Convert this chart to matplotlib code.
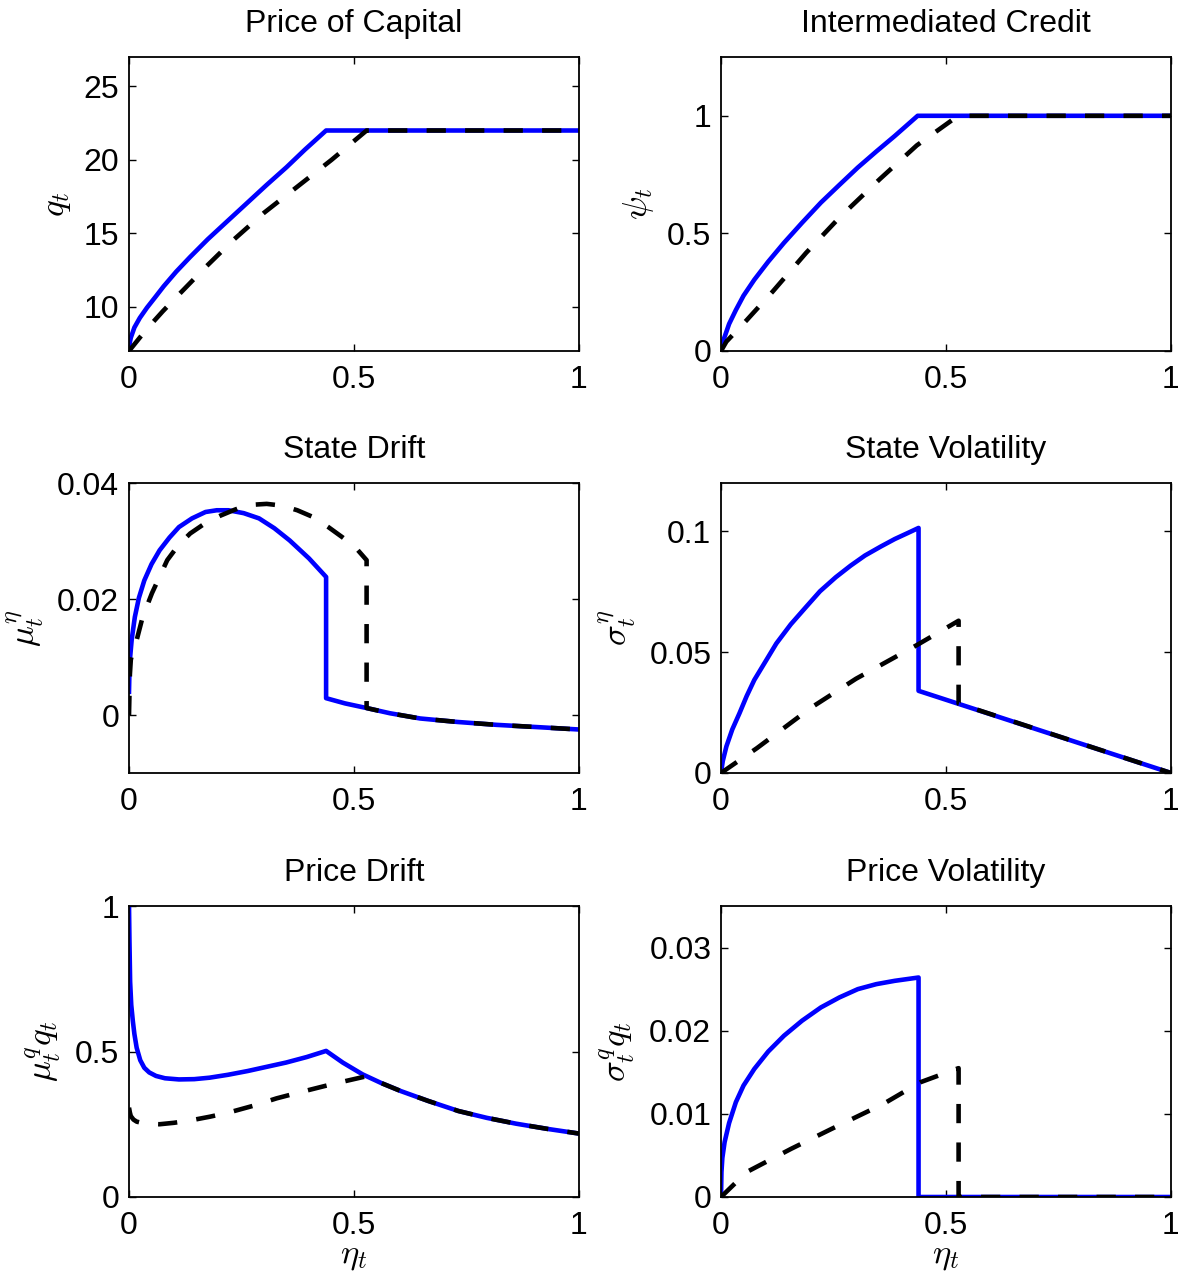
import numpy as np
import matplotlib
matplotlib.use("Agg")
import matplotlib.pyplot as plt
from matplotlib.ticker import FormatStrFormatter

plt.rcParams['font.family'] = ['Liberation Sans', 'DejaVu Sans']
plt.rcParams['mathtext.fontset'] = 'cm'

# price of capital
q_eta_b = [0, 0.004, 0.012, 0.024, 0.04, 0.058, 0.077, 0.105, 0.136, 0.175, 0.221, 0.26, 0.306,
           0.35, 0.391, 0.438, 1.0]
q_b = [7.3, 7.9, 8.6, 9.25, 9.95, 10.65, 11.4, 12.4, 13.4, 14.6, 15.9, 17.0, 18.3,
       19.5, 20.7, 22.0, 22.0]
q_eta_k = [0, 0.025, 0.05, 0.075, 0.1, 0.135, 0.17, 0.23, 0.3, 0.375, 0.45, 0.528, 1.0]
q_k = [7.0, 7.95, 8.85, 9.7, 10.5, 11.6, 12.7, 14.5, 16.4, 18.2, 20.0, 22.0, 22.0]

# intermediated credit
psi_eta_b = [0, 0.003, 0.008, 0.018, 0.033, 0.05, 0.074, 0.105, 0.14, 0.18, 0.222, 0.263,
             0.304, 0.345, 0.386, 0.437, 1.0]
psi_b = [0, 0.035, 0.06, 0.115, 0.174, 0.235, 0.303, 0.38, 0.46, 0.545, 0.631, 0.706,
         0.78, 0.848, 0.914, 1.0, 1.0]
psi_eta_k = [0, 0.012, 0.057, 0.115, 0.189, 0.263, 0.353, 0.435, 0.513, 0.53, 1.0]
psi_k = [0, 0.04, 0.131, 0.253, 0.417, 0.567, 0.731, 0.874, 0.981, 1.0, 1.0]

# state drift
mu_eta_b = [0, 0.001, 0.002, 0.006, 0.013, 0.022, 0.034, 0.05, 0.068, 0.09, 0.111, 0.14, 0.17,
            0.195, 0.221, 0.255, 0.289, 0.323, 0.357, 0.4, 0.438,
            0.438, 0.48, 0.528, 0.58, 0.647, 0.73, 0.817, 0.91, 1.0]
mu_b = [0.004, 0.0075, 0.0095, 0.013, 0.0169, 0.0202, 0.0232, 0.026, 0.0284, 0.0306, 0.0324, 0.0339, 0.035,
        0.0353, 0.0353, 0.0348, 0.0339, 0.0322, 0.0301, 0.027, 0.0238,
        0.0029, 0.002, 0.0012, 0.0003, -0.0006, -0.0012, -0.0017, -0.0021, -0.0025]
mu_eta_k = [0, 0.002, 0.004, 0.01, 0.017, 0.03, 0.051, 0.085, 0.11, 0.136, 0.17, 0.204, 0.235,
            0.264, 0.306, 0.34, 0.374, 0.41, 0.443, 0.475, 0.502, 0.528,
            0.528, 0.58, 0.647, 0.73, 0.817, 0.91, 1.0]
mu_k = [0, 0.007, 0.0095, 0.0115, 0.0129, 0.0168, 0.021, 0.0267, 0.0293, 0.0313, 0.0331, 0.0344, 0.0354,
        0.0362, 0.0364, 0.0361, 0.0353, 0.0341, 0.0324, 0.0306, 0.029, 0.0267,
        0.0012, 0.0003, -0.0006, -0.0012, -0.0017, -0.0021, -0.0025]

# state volatility
sig_eta_b = [0, 0.004, 0.012, 0.025, 0.041, 0.057, 0.074, 0.1, 0.123, 0.155, 0.189, 0.22,
             0.255, 0.288, 0.32, 0.355, 0.386, 0.415, 0.439, 0.439, 1.0]
sig_b = [0, 0.005, 0.011, 0.018, 0.0247, 0.0318, 0.0385, 0.0465, 0.0536, 0.0615, 0.0687, 0.0752,
         0.081, 0.0858, 0.09, 0.0937, 0.0968, 0.0993, 0.1014, 0.034, 0]
sig_eta_k = [0, 0.08, 0.2, 0.3, 0.435, 0.528, 0.528, 1.0]
sig_k = [0, 0.0103, 0.027, 0.039, 0.0529, 0.063, 0.0287, 0]

# price drift
muq_eta_b = [0, 0.001, 0.0025, 0.005, 0.0085, 0.012, 0.017, 0.025, 0.034, 0.045, 0.06, 0.08,
             0.111, 0.145, 0.179, 0.22, 0.264, 0.305, 0.349, 0.395, 0.438,
             0.475, 0.519, 0.56, 0.604, 0.665, 0.732, 0.795, 0.86, 0.93, 1.0]
muq_b = [1.0, 0.88, 0.74, 0.66, 0.605, 0.56, 0.513, 0.47, 0.444, 0.428, 0.416, 0.408,
         0.404, 0.405, 0.41, 0.42, 0.433, 0.447, 0.462, 0.481, 0.502,
         0.462, 0.4215, 0.392, 0.364, 0.33, 0.2955, 0.272, 0.252, 0.234, 0.218]
muq_eta_k = [0, 0.002, 0.004, 0.01, 0.017, 0.035, 0.068, 0.1, 0.136, 0.18, 0.221, 0.275,
             0.328, 0.38, 0.434, 0.48, 0.528, 0.56, 0.604, 0.665, 0.732, 0.795, 0.86, 0.93, 1.0]
muq_k = [0.307, 0.29, 0.278, 0.266, 0.259, 0.252, 0.25, 0.255, 0.263, 0.276, 0.29, 0.313,
         0.339, 0.36, 0.381, 0.398, 0.415, 0.392, 0.364, 0.33, 0.2955, 0.272, 0.252, 0.234, 0.218]

# price volatility
sq_eta_b = [0, 0.001, 0.003, 0.008, 0.018, 0.033, 0.05, 0.074, 0.105, 0.14, 0.18, 0.222,
            0.263, 0.304, 0.345, 0.386, 0.439, 0.439, 1.0]
sq_b = [0, 0.003, 0.0047, 0.0066, 0.0089, 0.0114, 0.0134, 0.0154, 0.0175, 0.0194, 0.0212, 0.0228,
        0.024, 0.025, 0.0256, 0.026, 0.0264, 0, 0]
sq_eta_k = [0, 0.057, 0.156, 0.246, 0.361, 0.443, 0.528, 0.528, 1.0]
sq_k = [0, 0.003, 0.0058, 0.0082, 0.0112, 0.0138, 0.0155, 0, 0]

panels = [
    ("Price of Capital", r"$q_t$", q_eta_b, q_b, q_eta_k, q_k, (7, 27), [10, 15, 20, 25]),
    ("Intermediated Credit", r"$\psi_t$", psi_eta_b, psi_b, psi_eta_k, psi_k, (0, 1.25), [0, 0.5, 1]),
    ("State Drift", r"$\mu^\eta_t$", mu_eta_b, mu_b, mu_eta_k, mu_k, (-0.01, 0.04), [0, 0.02, 0.04]),
    ("State Volatility", r"$\sigma^\eta_t$", sig_eta_b, sig_b, sig_eta_k, sig_k, (0, 0.12), [0, 0.05, 0.1]),
    ("Price Drift", r"$\mu^q_t q_t$", muq_eta_b, muq_b, muq_eta_k, muq_k, (0, 1), [0, 0.5, 1]),
    ("Price Volatility", r"$\sigma^q_t q_t$", sq_eta_b, sq_b, sq_eta_k, sq_k, (0, 0.035), [0, 0.01, 0.02, 0.03]),
]

W, H = 1178, 1275
fig = plt.figure(figsize=(W / 100, H / 100), dpi=100)
lefts = [129, 721]
rows = [(57, 351), (483, 773), (906, 1197)]

for i, (title, ylab, xb, yb, xk, yk, ylim, yt) in enumerate(panels):
    r, c = divmod(i, 2)
    top, bot = rows[r]
    ax = fig.add_axes([lefts[c] / W, 1 - bot / H, 450 / W, (bot - top) / H])
    ax.plot(xb, yb, color=(0, 0, 1), lw=3.3)
    ax.plot(xk, yk, color='k', lw=3.3, dashes=(4.2, 4.2))
    ax.set_xlim(0, 1)
    ax.set_ylim(*ylim)
    ax.set_xticks([0, 0.5, 1])
    ax.set_yticks(yt)
    ax.xaxis.set_major_formatter(FormatStrFormatter('%g'))
    ax.yaxis.set_major_formatter(FormatStrFormatter('%g'))
    ax.tick_params(direction='in', top=True, right=True, length=5, width=1,
                   labelsize=23)
    ax.tick_params(axis='x', pad=10)
    ax.tick_params(axis='y', pad=7)
    for s in ax.spines.values():
        s.set_linewidth(1.3)
    ax.set_title(title, fontsize=23, pad=18)
    ax.set_ylabel(ylab, fontsize=25, labelpad=8)
    if r == 2:
        ax.set_xlabel(r"$\eta_t$", fontsize=25, labelpad=-1)

fig.savefig("out.png", dpi=100)
